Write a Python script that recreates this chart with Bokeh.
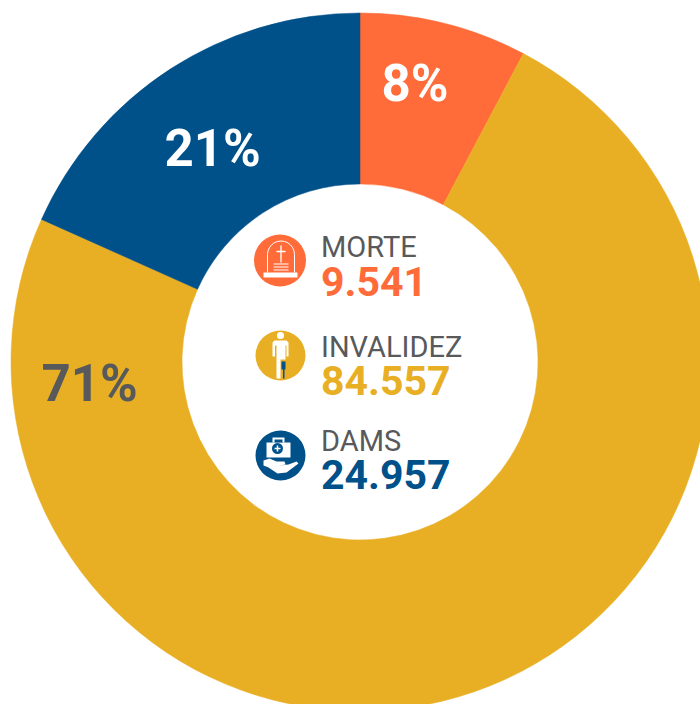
import math
from bokeh.plotting import figure
from bokeh.models import Range1d
from bokeh.core.properties import value
from bokeh.embed import file_html
from bokeh.resources import INLINE

# Data
slice_names = ["MORTE", "INVALIDEZ", "DAMS"]
slice_counts = ["9.541", "84.557", "24.957"]
slice_labels = ["8%", "71%", "21%"]
slice_shares = [7.75, 73.95, 18.3]
colors = ["#FF6B39", "#E8AF25", "#00518A"]
label_colors = ["#FFFFFF", "#58595B", "#FFFFFF"]

W, H = 700, 704
p = figure(width=W, height=H, x_range=Range1d(0, 700), y_range=Range1d(0, 704),
           output_backend="svg", toolbar_location=None, min_border=0, outline_line_color=None)
p.axis.visible = False
p.grid.visible = False
p.background_fill_color = "white"
p.border_fill_color = "white"

Y = lambda py: 704 - py
cx, cy = 359.5, Y(361.5)
R_out, R_in = 349, 178

# Ring, clockwise from 12 o'clock
a = math.pi / 2
for share, col in zip(slice_shares, colors):
    b = a - share / 100 * 2 * math.pi
    p.annular_wedge(x=[cx], y=[cy], inner_radius=R_in, outer_radius=R_out, start_angle=b, end_angle=a,
                    fill_color=col, line_color=col, line_width=0.5)
    a = b

def txt(x, py, s, col, size, style="normal", font="Roboto"):
    p.text(x=[x], y=[Y(py - 0.36 * size)], text=[s], text_color=col, text_font=value(font), text_font_size=f"{size}px",
           text_font_style=style, text_baseline="alphabetic", text_align="left")

# Percent labels
for (x, py), s, c in zip([(381, 101), (41, 401), (164, 166)], slice_labels, label_colors):
    txt(x, py, s, c, 51, "bold")

# Legend text
for name, count, col, py1, py2 in zip(slice_names, slice_counts, colors, [257, 357, 451], [296, 395, 489]):
    txt(320.5, py1, name, "#58595B", 29)
    txt(320.5, py2, count, col, 41, "bold")

def poly(xs, ys, col):
    p.patch(xs, [Y(v) for v in ys], fill_color=col, line_color=None)

def seg(x0, y0, x1, y1, col, w):
    p.line([x0, x1], [Y(y0), Y(y1)], line_color=col, line_width=w)

def circ(x, py, r, col):
    p.circle(x=[x], y=[Y(py)], radius=r, fill_color=col, line_color=None)

# Icon: tombstone
circ(279.5, 260, 26, colors[0])
poly([263, 297, 297, 263], [272, 272, 277, 277], "white")
ts = [i / 12 * math.pi for i in range(13)]
p.line([267] + [280.5 + 13.5 * math.cos(math.pi - t) for t in ts] + [294],
       [Y(272)] + [Y(254 - 13.5 * math.sin(t)) for t in ts] + [Y(272)], line_color="white", line_width=1)
seg(280.5, 245, 280.5, 262, "white", 1.3)
seg(276, 251, 285, 251, "white", 1.3)
for v in (263.5, 266.5, 269.5):
    seg(273, v, 288, v, "white", 1)

# Icon: person with prosthetic leg
circ(280, 355, 25, colors[1])
circ(280, 335, 3.6, "white")
poly([274, 286, 288, 288, 286, 286, 285, 285, 280, 280, 276, 276, 274.5, 274.5, 272, 272],
     [340, 340, 342, 356, 356, 345, 345, 359, 359, 378, 378, 345, 345, 356, 356, 342], "white")
poly([281, 285, 285, 284, 284, 282.5, 282.5, 281], [361, 361, 369, 369, 378, 378, 369, 369], colors[2])

# Icon: medical case on a hand
circ(280, 455, 25, colors[2])
poly([266, 290, 290, 266], [442, 442, 457, 457], "white")
poly([272, 284, 284, 272], [437, 437, 442, 442], "white")
poly([274, 282, 282, 274], [439, 439, 442, 442], colors[2])
circ(277, 448, 5.5, colors[2])
seg(274, 448, 280, 448, "white", 1.5)
seg(277, 445, 277, 451, "white", 1.5)
poly([263, 269, 276, 284, 285, 279, 288, 296, 298, 286, 277, 268, 263],
     [460, 458, 461, 461, 464, 465, 464, 461, 463, 472, 473, 467, 465], "white")

open("out.html", "w").write(file_html(p, INLINE))
